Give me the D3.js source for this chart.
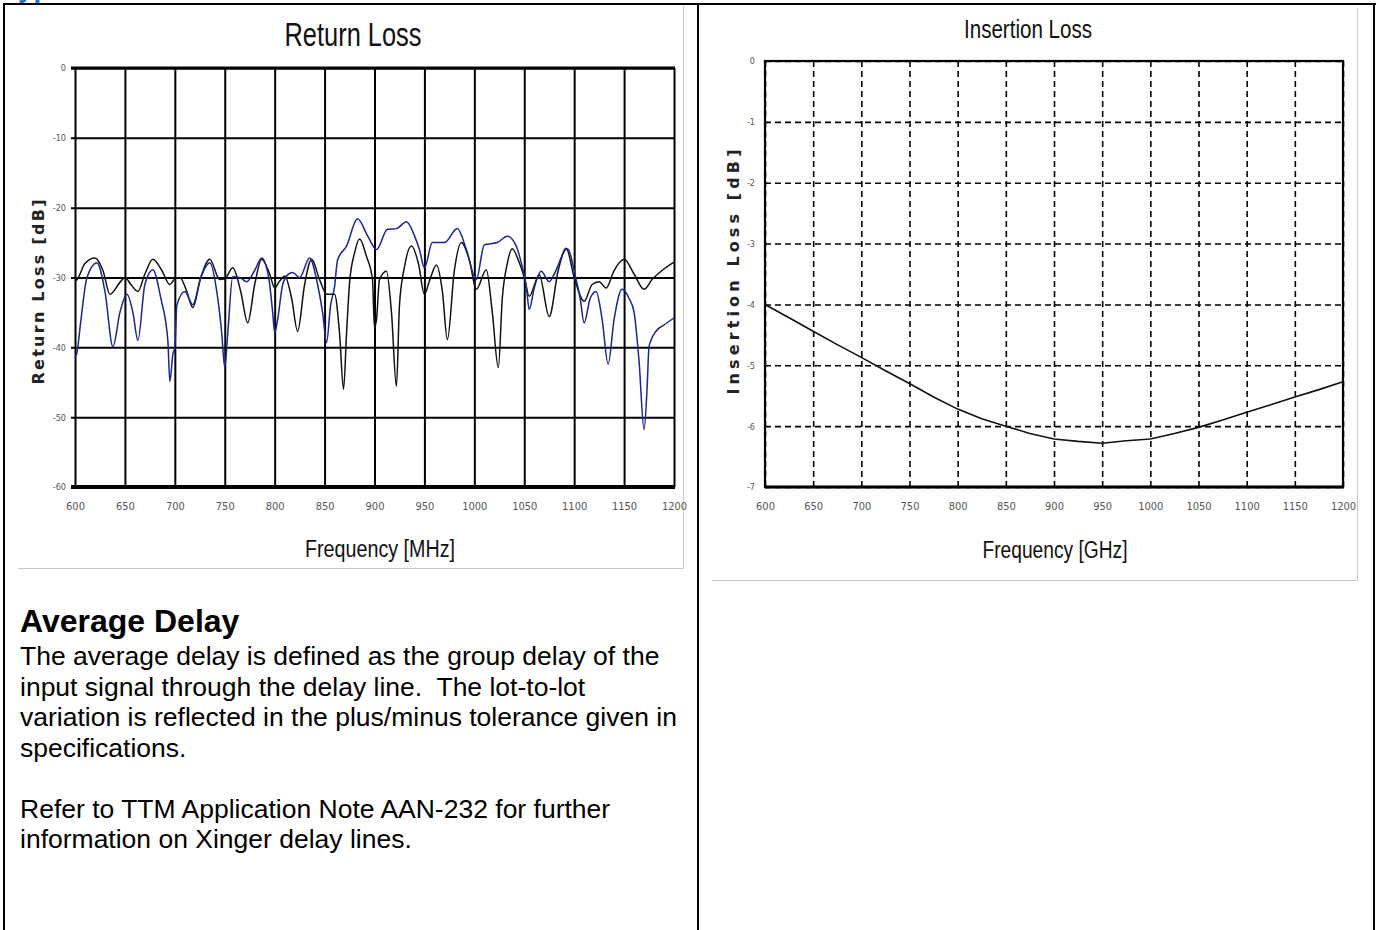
<!DOCTYPE html>
<html>
<head>
<meta charset="utf-8">
<script src="https://cdn.jsdelivr.net/npm/d3@7"></script>
<style>
  body { margin: 0; background: #fff; }
  svg text { font-family: "Liberation Sans", Arial, sans-serif; white-space: pre; }
</style>
</head>
<body>
<div id="page"></div>
<script>
// return loss, two traces (black and blue)
var blackFreq = [600, 602, 610, 620, 628, 635, 645, 650, 656, 663, 670, 678, 687, 695, 700, 705, 712, 718, 726, 735,
    745, 750, 758, 766, 773, 780, 787, 795, 800, 805, 810, 817, 823, 830, 837, 845, 852, 860, 865, 869,
    872, 875, 880, 885, 892, 898, 900, 902, 905, 912, 917, 922, 925, 930, 937, 944, 950, 955, 962, 968,
    973, 980, 987, 995, 1002, 1012, 1018, 1024, 1028, 1033, 1038, 1044, 1050, 1055, 1065, 1075, 1084, 1092, 1100, 1110,
    1118, 1125, 1132, 1140, 1150, 1160, 1170, 1178, 1188, 1200];
var blackDb = [-30.5, -30.3, -28, -27.2, -29, -32.4, -30.7, -30, -31, -32, -29.5, -27.4, -29, -31, -30.2, -30, -32, -34.3, -30, -27.4,
    -30.3, -30.2, -28.6, -32, -36.5, -31, -27.4, -29.5, -31.5, -30.5, -29.8, -33, -37.7, -31, -27.4, -30.3, -32.4, -32.4, -38, -46,
    -38, -30.8, -26.5, -24.5, -27, -30.3, -37.2, -36, -30.3, -29.1, -35, -45.6, -34, -28.5, -25.5, -28, -32.4, -30.5, -28.2, -32,
    -38.9, -29, -25, -27.5, -31.7, -28.9, -35, -42.9, -33, -28, -25.9, -27.5, -30, -32.7, -29.6, -35.6, -29, -25.8, -30, -33.4,
    -31, -30.6, -31.5, -29, -27.4, -29.5, -31.7, -30.3, -29, -27.8];

var blueFreq = [600, 602, 606, 612, 622, 630, 638, 645, 652, 658, 663, 670, 678, 686, 693, 695, 698, 700, 702, 710,
    718, 726, 735, 742, 747, 750, 753, 758, 765, 772, 780, 787, 794, 798, 800, 803, 808, 812, 818, 825,
    835, 843, 848, 852, 856, 860, 863, 872, 883, 893, 902, 913, 922, 932, 940, 945, 950, 958, 970, 983,
    992, 1002, 1010, 1023, 1033, 1042, 1047, 1052, 1055, 1060, 1067, 1075, 1080, 1093, 1102, 1106, 1110, 1116, 1122, 1128,
    1134, 1140, 1148, 1155, 1160, 1165, 1170, 1173, 1175, 1182, 1190, 1200];
var blueDb = [-41.5, -40.7, -36, -30, -27.9, -32, -39.9, -35, -32.4, -35, -39, -31, -28.9, -33, -39, -44.9, -41, -40, -34, -32,
    -33.9, -30, -27.9, -32, -38, -42.9, -38, -29.9, -30, -30.6, -29, -27.2, -30, -35, -37.9, -36, -31, -29.8, -29.3, -30,
    -27.2, -31, -35, -39.3, -34, -31.3, -27.5, -25.5, -21.6, -24, -26, -23.1, -23, -22, -24, -26, -28.6, -25, -25, -23,
    -26, -30.3, -25.3, -25, -24.1, -25.5, -27.9, -31.2, -34.6, -31.5, -29.1, -30.6, -29.5, -25.9, -30.3, -33, -36.5, -33, -32, -36,
    -42.4, -36, -31.7, -33, -35, -42, -51.8, -46, -39.9, -37.7, -36.8, -35.8];

// insertion loss
var ilFreq = [600, 625, 650, 675, 700, 725, 750, 775, 800, 825, 850, 875, 900, 925, 950, 975, 1000, 1025, 1050, 1075, 1100, 1125, 1150, 1175, 1200];
var ilDb = [-4.0, -4.22, -4.44, -4.66, -4.87, -5.09, -5.3, -5.52, -5.72, -5.88, -6.0, -6.12, -6.21, -6.25, -6.28, -6.24, -6.21, -6.12, -6.02, -5.9, -5.77, -5.65, -5.52, -5.4, -5.27];

var freqTicks = [600, 650, 700, 750, 800, 850, 900, 950, 1000, 1050, 1100, 1150, 1200];
var rlTicks = [0, -10, -20, -30, -40, -50, -60];
var ilTicks = [0, -1, -2, -3, -4, -5, -6, -7];

var paraLines = [
    "The average delay is defined as the group delay of the",
    "input signal through the delay line.  The lot-to-lot",
    "variation is reflected in the plus/minus tolerance given in",
    "specifications.",
    "",
    "Refer to TTM Application Note AAN-232 for further",
    "information on Xinger delay lines."
];

var width = 1380,
    height = 930;
var narrow = '"Liberation Sans Narrow", "DejaVu Sans Condensed", sans-serif';
var plain = function (d) { return String(d); };

var svg = d3.select("#page").append("svg")
    .attr("width", width)
    .attr("height", height);

// squeezed text, like the narrow font of the original pictures
function narrowText(xx, yy, size, len, txt) {
    return svg.append("text")
        .attr("x", xx).attr("y", yy)
        .attr("text-anchor", "middle")
        .attr("textLength", len).attr("lengthAdjust", "spacingAndGlyphs")
        .style("font-size", size + "px")
        .attr("fill", "#111")
        .text(txt);
}

// cut-off blue heading at the very top
svg.append("text")
    .attr("x", 3).attr("y", -3)
    .style("font-weight", "bold").style("font-size", "28px")
    .attr("fill", "#2f6fb8")
    .text("Typical Performance");

// table borders
svg.append("line").attr("x1", 3).attr("x2", 1376).attr("y1", 4).attr("y2", 4)
    .attr("stroke", "#000").attr("stroke-width", 2);
[4, 698, 1374].forEach(function (xx) {
    svg.append("line").attr("x1", xx).attr("x2", xx).attr("y1", 3).attr("y2", height)
        .attr("stroke", "#000").attr("stroke-width", 2);
});

// picture frames (light grey)
svg.append("path").attr("d", "M18,568.5H683.5V6").attr("fill", "none").attr("stroke", "#c8c8c8");
svg.append("path").attr("d", "M712,580.5H1357.5V8").attr("fill", "none").attr("stroke", "#c8c8c8");

// ---------- Return Loss ----------
var x = d3.scaleLinear().domain([600, 1200]).range([75, 674]);
var y = d3.scaleLinear().domain([-60, 0]).range([487, 68]);

narrowText(353, 46, 33, 137, "Return Loss");

var rl = svg.append("g");

var rlX = rl.append("g")
    .attr("transform", "translate(0," + y(-60) + ")")
    .call(d3.axisBottom(x).tickValues(freqTicks).tickFormat(plain).tickSize(-(y(-60) - y(0))).tickPadding(15));
var rlY = rl.append("g")
    .attr("transform", "translate(" + x(600) + ",0)")
    .call(d3.axisLeft(y).tickValues(rlTicks).tickFormat(plain).tickSize(-(x(1200) - x(600))).tickPadding(9));

[rlX, rlY].forEach(function (g) {
    g.select(".domain").remove();
    g.selectAll(".tick line").attr("stroke", "#000").attr("stroke-width", 2);
    g.selectAll(".tick text")
        .style("font-family", narrow)
        .attr("fill", "#555");
});
rlX.selectAll(".tick text").style("font-size", "11px");
rlY.selectAll(".tick text").style("font-size", "9px");
rlY.selectAll(".tick line").attr("x1", -4);

// heavier frame lines
rl.append("line").attr("x1", x(600) - 4).attr("x2", x(1200) + 1).attr("y1", y(0)).attr("y2", y(0))
    .attr("stroke", "#000").attr("stroke-width", 3);
rl.append("line").attr("x1", x(600) - 4).attr("x2", x(1200) + 1).attr("y1", y(-60)).attr("y2", y(-60))
    .attr("stroke", "#000").attr("stroke-width", 4);

var rlLine = d3.line()
    .curve(d3.curveMonotoneX)
    .x(function (d) { return x(d[0]); })
    .y(function (d) { return y(d[1]); });

rl.append("path")
    .datum(d3.zip(blackFreq, blackDb))
    .attr("d", rlLine)
    .attr("fill", "none").attr("stroke", "#111").attr("stroke-width", 1.5);
rl.append("path")
    .datum(d3.zip(blueFreq, blueDb))
    .attr("d", rlLine)
    .attr("fill", "none").attr("stroke", "#1c2590").attr("stroke-width", 1.5);

svg.append("text")
    .attr("transform", "translate(44,292) rotate(-90)")
    .attr("text-anchor", "middle")
    .attr("textLength", 185).attr("lengthAdjust", "spacing")
    .style("font-family", '"DejaVu Sans", Verdana, sans-serif')
    .style("font-weight", "bold").style("font-size", "16px")
    .attr("fill", "#222")
    .text("Return Loss [dB]");

narrowText(380, 557, 23, 150, "Frequency [MHz]");

// ---------- Insertion Loss ----------
var x2 = d3.scaleLinear().domain([600, 1200]).range([765, 1343]);
var y2 = d3.scaleLinear().domain([-7, 0]).range([487, 61]);

narrowText(1028, 38, 25, 128, "Insertion Loss");

var il = svg.append("g");

var ilX = il.append("g")
    .attr("transform", "translate(0," + y2(-7) + ")")
    .call(d3.axisBottom(x2).tickValues(freqTicks).tickFormat(plain).tickSize(-(y2(-7) - y2(0))).tickPadding(15));
var ilY = il.append("g")
    .attr("transform", "translate(" + x2(600) + ",0)")
    .call(d3.axisLeft(y2).tickValues(ilTicks).tickFormat(plain).tickSize(-(x2(1200) - x2(600))).tickPadding(10));

[ilX, ilY].forEach(function (g) {
    g.select(".domain").remove();
    g.selectAll(".tick line")
        .attr("stroke", "#000").attr("stroke-width", 1.6)
        .attr("stroke-dasharray", "6,4");
    g.selectAll(".tick text")
        .style("font-family", narrow)
        .attr("fill", "#555");
});
ilX.selectAll(".tick text").style("font-size", "11px");
ilY.selectAll(".tick text").style("font-size", "9px");

// solid frame
il.append("rect")
    .attr("x", x2(600)).attr("y", y2(0))
    .attr("width", x2(1200) - x2(600)).attr("height", y2(-7) - y2(0))
    .attr("fill", "none").attr("stroke", "#000").attr("stroke-width", 2.2);
il.append("line").attr("x1", x2(600)).attr("x2", x2(1200) + 1).attr("y1", y2(-7)).attr("y2", y2(-7))
    .attr("stroke", "#000").attr("stroke-width", 3);

il.append("path")
    .datum(d3.zip(ilFreq, ilDb))
    .attr("d", d3.line()
        .x(function (d) { return x2(d[0]); })
        .y(function (d) { return y2(d[1]); }))
    .attr("fill", "none").attr("stroke", "#111").attr("stroke-width", 1.6);

svg.append("text")
    .attr("transform", "translate(739,272) rotate(-90)")
    .attr("text-anchor", "middle")
    .attr("textLength", 245).attr("lengthAdjust", "spacing")
    .style("font-family", '"DejaVu Sans", Verdana, sans-serif')
    .style("font-weight", "bold").style("font-size", "16px")
    .attr("fill", "#222")
    .text("Insertion Loss [dB]");

narrowText(1055, 558, 23, 145, "Frequency [GHz]");

// ---------- text below ----------
svg.append("text")
    .attr("x", 20).attr("y", 632)
    .style("font-weight", "bold").style("font-size", "32px")
    .attr("fill", "#000")
    .text("Average Delay");

svg.append("g").selectAll("text")
    .data(paraLines)
    .enter().append("text")
    .attr("x", 20)
    .attr("y", function (d, i) { return 665 + i * 30.5; })
    .style("font-size", "26.5px")
    .attr("fill", "#000")
    .text(function (d) { return d; });
</script>
</body>
</html>
